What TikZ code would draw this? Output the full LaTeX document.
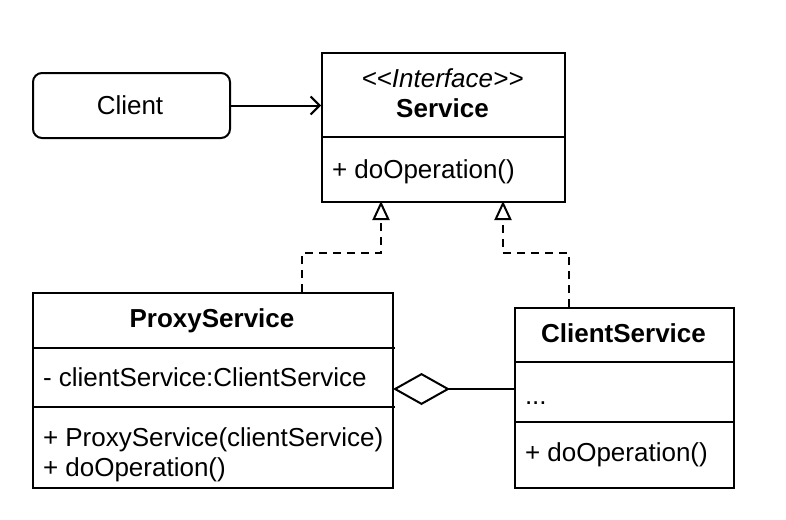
\documentclass[tikz,border=0pt]{standalone}
\usepackage{fontspec}
\setmainfont{Liberation Sans}
\usetikzlibrary{arrows.meta}
\begin{document}
\begin{tikzpicture}[x=1pt,y=-1pt,line width=2pt,
  box/.style={draw,inner sep=0,anchor=north west},
  txt/.style={inner sep=0,anchor=west,font=\fontsize{26}{30}\selectfont,text height=20pt,text depth=2pt},
  ctxt/.style={inner sep=0,font=\fontsize{26}{30}\selectfont,text height=20pt,text depth=2pt},
  realize/.style={dashed,dash pattern=on 8pt off 6pt,-{Triangle[open,length=19pt,width=17pt,fill=white]}},
  uses/.style={-{Straight Barb[length=9pt,width=18pt]}}]
\useasboundingbox (0,0) rectangle (786,519);
% Client
\node[box,rounded corners=9pt,minimum width=197pt,minimum height=65pt] (client) at (32,72) {};
\node[ctxt] (clientt) at (130,105) {Client};
% Service
\node[box,minimum width=243pt,minimum height=149pt] (svc) at (321,52) {};
\node[ctxt,font=\fontsize{26}{30}\selectfont\itshape] (svcst) at (442.5,78) {{<}{<}Interface{>}{>}};
\node[ctxt,font=\fontsize{26}{30}\selectfont\bfseries] (svct) at (442.5,108) {Service};
\draw (321,137) -- (564,137);
\node[txt] (svcop) at (331,169) {+ doOperation()};
% ProxyService
\node[box,minimum width=360pt,minimum height=195pt] (proxy) at (32,292) {};
\node[ctxt,font=\fontsize{26}{30}\selectfont\bfseries] (proxyt) at (212,318) {ProxyService};
\draw (32,348) -- (395,348);
\draw (32,407) -- (395,407);
\node[txt] (proxya) at (42,377) {- clientService:ClientService};
\node[txt] (proxyo1) at (42,437) {+ ProxyService(clientService)};
\node[txt] (proxyo2) at (42,467) {+ doOperation()};
% ClientService
\node[box,minimum width=219pt,minimum height=180pt] (cs) at (514,307) {};
\node[ctxt,font=\fontsize{26}{30}\selectfont\bfseries] (cst) at (623.5,333) {ClientService};
\draw (514,362) -- (733,362);
\draw (514,422) -- (733,422);
\node[txt] (csa) at (524,395) {...};
\node[txt] (cso) at (524,452) {+ doOperation()};
% connectors
\draw[uses] (client.east) -- (client.east -| svc.west);
\coordinate (pu) at (302,292);
\coordinate (cu) at (569,307);
\draw[realize] (pu) -- (302,253) -- (381,253) -- (381,201);
\draw[realize] (cu) -- (569,253) -- (503,253) -- (503,201);
\coordinate (dl) at (393,389);
\coordinate (dr) at (514,389);
\draw[{Diamond[open,length=57pt,width=32pt]}-] (dl) -- (dr);
\end{tikzpicture}
\end{document}
